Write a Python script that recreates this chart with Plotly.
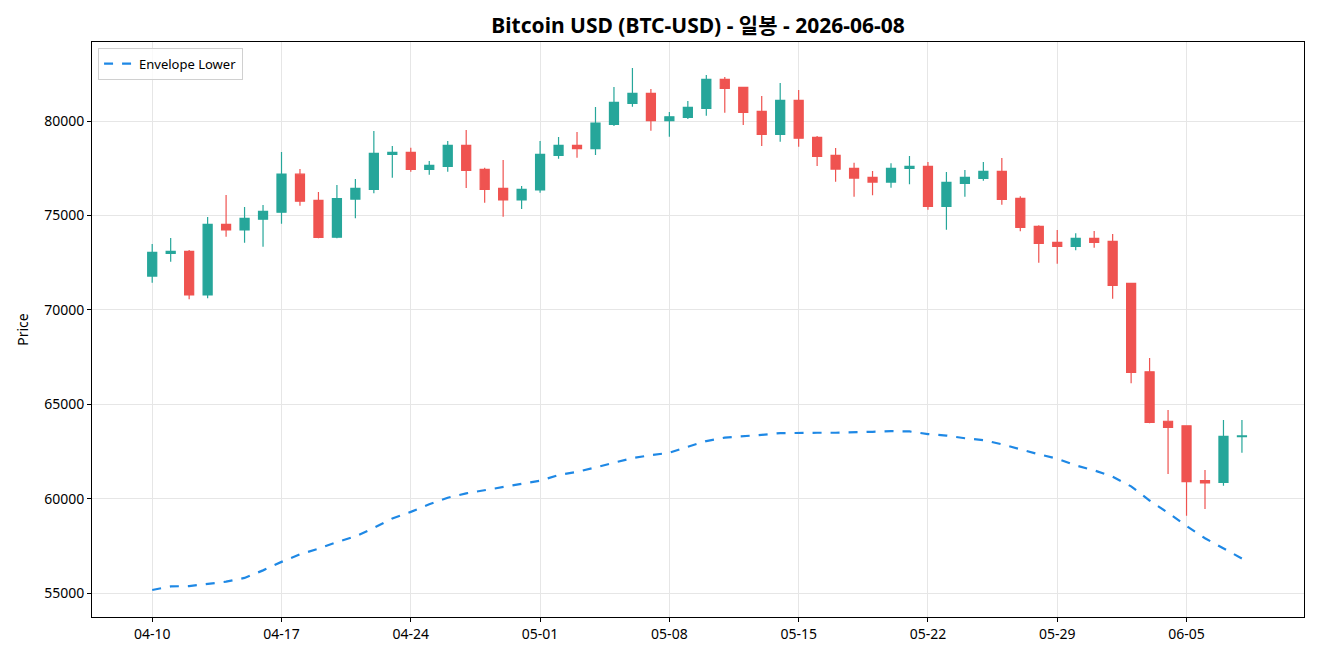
import pandas as pd
import plotly.graph_objects as go

start_date = "2026-04-10"
n_days = 60
dates = pd.date_range(start_date, periods=n_days, freq="D")

open_ = [71790, 72994, 73100, 70790, 74530, 74230, 74800, 75170, 77190, 75800,
         73850, 75870, 76380, 78240, 78340, 77440, 77600, 78710, 77440, 76440,
         75820, 76350, 78180, 78710, 78540, 79830, 80940, 81470, 80020, 80200,
         80670, 82210, 81790, 80520, 79300, 81100, 79140, 78180, 77500, 77020,
         76770, 77500, 77600, 75480, 76700, 76970, 77340, 75910, 74420, 73580,
         73360, 73790, 73630, 71400, 66720, 64100, 63860, 60950, 60860, 63280]
high = [73485, 73804, 73169, 74917, 76082, 75446, 75552, 78360, 77460, 76241,
        76612, 76930, 79472, 78678, 78588, 77884, 78943, 79525, 77529, 77936,
        76560, 78943, 79154, 79419, 80744, 81803, 82810, 81697, 80478, 81062,
        82439, 82333, 81820, 81326, 82015, 81644, 79207, 78572, 77794, 77354,
        77762, 78148, 77830, 77300, 77406, 77830, 78042, 76013, 74477, 74228,
        74053, 74175, 74016, 71405, 67448, 64694, 63862, 61515, 64164, 64164]
low = [71435, 72549, 70557, 70610, 73873, 73555, 73343, 74562, 75515, 73790,
       73790, 74848, 76172, 76999, 77317, 77157, 77317, 76453, 75674, 74932,
       75340, 76200, 78005, 78058, 78201, 79737, 80760, 79488, 79170, 80107,
       80283, 80442, 79790, 78678, 78906, 78641, 77618, 76787, 75992, 76066,
       76468, 76648, 75304, 74244, 75992, 76840, 75568, 74159, 72496, 72443,
       73153, 73291, 70590, 66108, 63989, 61303, 59095, 59450, 60684, 62432]
close = [73045, 73100, 70790, 74530, 74230, 74850, 75220, 77190, 75760, 73840,
         75900, 76440, 78290, 78340, 77440, 77650, 78710, 77390, 76380, 75820,
         76380, 78240, 78710, 78540, 79900, 80990, 81470, 80020, 80230, 80730,
         82210, 81730, 80460, 79300, 81100, 79090, 78130, 77460, 76980, 76770,
         77500, 77600, 75480, 76750, 77020, 77340, 75850, 74370, 73520, 73360,
         73790, 73580, 71300, 66690, 64040, 63780, 60900, 60840, 63300, 63320]
envelope_lower = [55160, 55350, 55370, 55480, 55600, 55800, 56200, 56650, 57050, 57350,
                  57700, 58000, 58450, 58950, 59300, 59700, 60050, 60280, 60450, 60600,
                  60750, 60950, 61250, 61420, 61650, 61900, 62150, 62300, 62430, 62750,
                  63050, 63230, 63290, 63380, 63470, 63490, 63490, 63490, 63500, 63540,
                  63580, 63560, 63420, 63340, 63200, 63100, 62880, 62600, 62350, 62120,
                  61760, 61500, 61160, 60650, 59900, 59250, 58550, 57900, 57350, 56830]

title_text = "Bitcoin USD (BTC-USD) - 일봉 - 2026-06-08"
y_ticks = [55000, 60000, 65000, 70000, 75000, 80000]

FONT = "Noto Sans, Noto Sans CJK KR, DejaVu Sans, sans-serif"
UP = "#26a69a"
DOWN = "#ef5350"

fig = go.Figure()
fig.add_trace(go.Candlestick(
    x=dates, open=open_, high=high, low=low, close=close,
    increasing=dict(line=dict(color=UP, width=1.2), fillcolor=UP),
    decreasing=dict(line=dict(color=DOWN, width=1.2), fillcolor=DOWN),
    showlegend=False, name="BTC-USD",
))
fig.add_trace(go.Scatter(
    x=dates, y=envelope_lower, mode="lines", name="Envelope Lower",
    line=dict(color="#1e88e5", width=2.2, dash="dash"),
))

x0 = dates[0] - pd.Timedelta(days=3.26)
x1 = dates[-1] + pd.Timedelta(days=3.36)

fig.update_layout(
    width=1320, height=660,
    paper_bgcolor="white", plot_bgcolor="white",
    margin=dict(l=92, r=16, t=42, b=43),
    font=dict(family=FONT, size=14, color="#000000"),
    title=dict(text="<b>" + title_text + "</b>", x=0.5, xref="paper", xanchor="center",
               y=1 - 26 / 660, yanchor="middle", font=dict(size=21, family=FONT)),
    showlegend=True,
    legend=dict(x=0.005, y=0.99, xanchor="left", yanchor="top",
                bgcolor="rgba(255,255,255,0.8)", bordercolor="#d0d0d0", borderwidth=1,
                font=dict(size=13, family=FONT), itemwidth=30,
                tracegroupgap=0),
    hovermode=False,
)
fig.update_xaxes(
    type="date", range=[x0, x1], rangeslider=dict(visible=False),
    tickformat="%m-%d", tick0=dates[0], dtick=7 * 24 * 3600 * 1000,
    showgrid=True, gridcolor="#e6e6e6", gridwidth=1,
    showline=True, linecolor="black", linewidth=1, mirror=True,
    ticks="outside", ticklen=4, tickcolor="black", zeroline=False,
    tickfont=dict(size=14),
)
fig.update_yaxes(
    range=[53730, 84190], tickvals=y_ticks, ticktext=[str(v) for v in y_ticks],
    showgrid=True, gridcolor="#e6e6e6", gridwidth=1,
    showline=True, linecolor="black", linewidth=1, mirror=True,
    ticks="outside", ticklen=4, tickcolor="black", zeroline=False,
    title=dict(text="Price", font=dict(size=14), standoff=12),
    tickfont=dict(size=14),
)

fig.write_html("out.html")
